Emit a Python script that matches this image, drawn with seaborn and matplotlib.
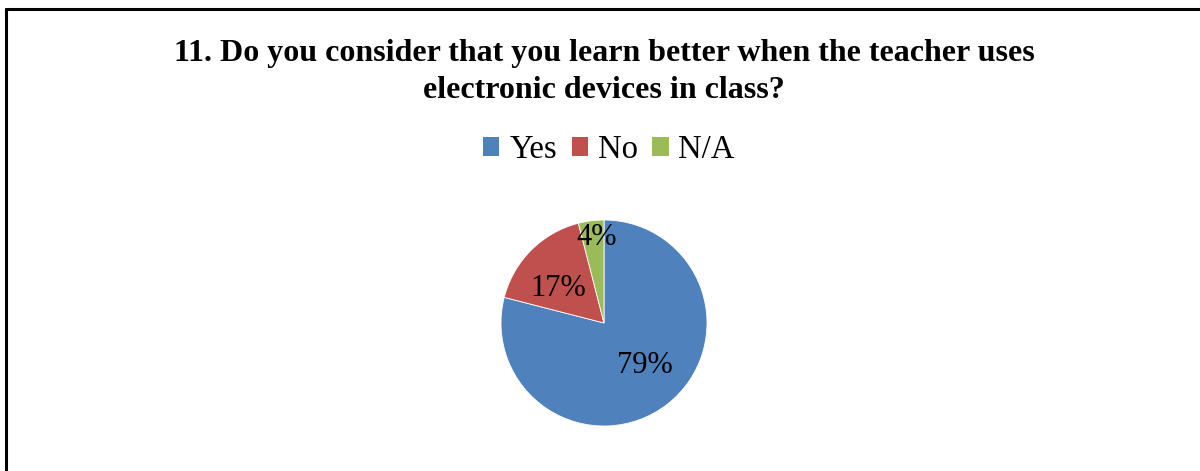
import matplotlib
matplotlib.use("Agg")
import matplotlib.pyplot as plt
import seaborn as sns
from matplotlib.lines import Line2D
from matplotlib.patches import Patch
import numpy as np

categories = ["Yes", "No", "N/A"]
values = [79, 17, 4]
pct_labels = ["79%", "17%", "4%"]
colors = ["#4F81BD", "#C0504D", "#9BBB59"]
title = "11. Do you consider that you learn better when the teacher uses\nelectronic devices in class?"

sns.set_theme(style="white")
plt.rcParams['font.family'] = ['Liberation Serif', 'DejaVu Serif']
plt.rcParams['text.color'] = 'black'

fig = plt.figure(figsize=(12, 4.71), dpi=100)
fig.patch.set_facecolor("white")

# border lines (top and left only, as in reference)
fig.add_artist(Line2D([5.5/1200, 1.0], [1 - 8.5/471, 1 - 8.5/471], color="black", lw=2.2))
fig.add_artist(Line2D([5.5/1200, 5.5/1200], [0.0, 1 - 8.5/471], color="black", lw=2.2))

ax = fig.add_axes([(604 - 103) / 1200, (471 - 323 - 103) / 471, 206 / 1200, 206 / 471])
wedges, texts = ax.pie(values, colors=colors, startangle=90, counterclock=False,
                       wedgeprops=dict(edgecolor="white", linewidth=0.6))
ax.set_xlim(-1, 1)
ax.set_ylim(-1, 1)
ax.set_aspect("equal")
ax.axis("off")

# label placement (distance fraction of radius, angle in degrees)
label_pos = [(0.57, -45.7), (0.56, 142.7), (0.83, 94.7)]
for lab, (d, a) in zip(pct_labels, label_pos):
    r = np.deg2rad(a)
    ax.text(d * np.cos(r), d * np.sin(r), lab, ha="center", va="center",
            fontsize=22, color="black")

fig.text(604 / 1200, 1 - 72 / 471, title, ha="center", va="center",
         fontsize=23, fontweight="bold", linespacing=1.33, color="black")

handles = [Patch(facecolor=c, edgecolor="none") for c in colors]
fig.legend(handles, categories, loc="center", bbox_to_anchor=(609 / 1200, 1 - 150 / 471),
           ncol=3, frameon=False, fontsize=23.5, handlelength=0.5, handleheight=0.5,
           handletextpad=0.3, columnspacing=0.45, labelcolor="black")

fig.savefig("out.png", dpi=100, facecolor="white")
